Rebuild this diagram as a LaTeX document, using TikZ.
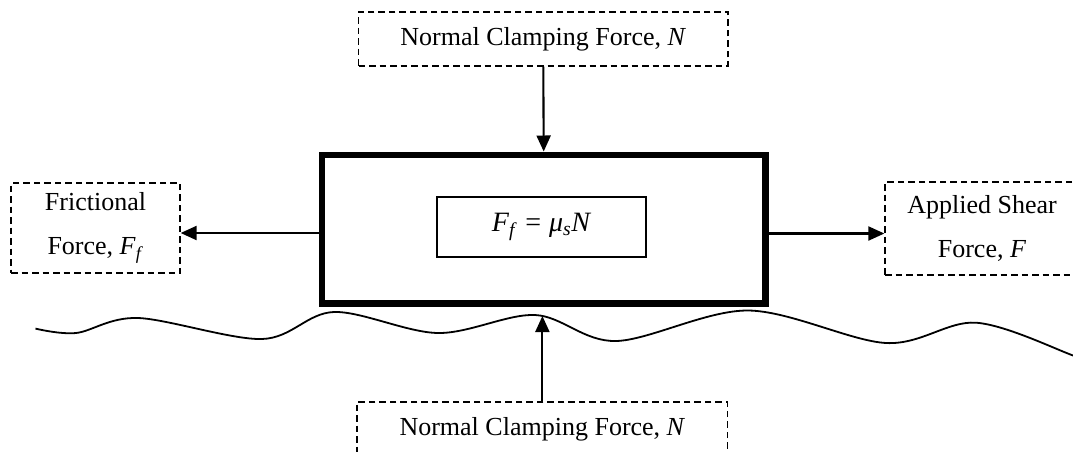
\documentclass[tikz,border=0pt]{standalone}
\usepackage{fontspec}
\setmainfont{Liberation Serif}
\usetikzlibrary{arrows.meta,positioning}
\newcommand{\eqnsize}{\fontsize{28}{32}\selectfont}

\begin{document}
\begin{tikzpicture}[x=1pt,y=-1pt,font=\fontsize{26}{44}\selectfont,
 forcebox/.style={draw,dash pattern=on 6.5pt off 4pt,line width=1.3pt,align=center,inner sep=0pt},
 force/.style={line width=2.1pt,-{Triangle[length=16pt,width=14pt]}}]
 \clip(0,0)rectangle(1073,451);
 \node[draw,line width=6.5pt,minimum width=443.5pt,minimum height=148.5pt](block)at(543.7,229){};
 \node[draw,line width=1.6pt,minimum width=209pt,minimum height=60pt,inner sep=0pt,font=\eqnsize](law)at(541.5,227)
  {\textit{F}\textsubscript{\textit{f}}\hspace{8pt}=\hspace{8pt}\textit{μ}\textsubscript{\textit{s}}\textit{N}};
 \node[forcebox,minimum width=369.4pt,minimum height=54pt](ntop)at(543.3,39){Normal Clamping Force, \textit{N}};
 \node[forcebox,minimum width=370.7pt,minimum height=54pt](nbot)at(542.4,429){Normal Clamping Force, \textit{N}};
 \node[forcebox,minimum width=169pt,minimum height=90pt](fric)at(95.5,228){Frictional\\Force, \textit{F}\textsubscript{\textit{f}}};
 \node[forcebox,minimum width=194pt,minimum height=93pt](shear)at(982,228.5){Applied Shear\\Force, \textit{F}};
 \coordinate(contact)at(542.4,316);
 \draw[line width=1.8pt]plot[smooth,tension=.55]coordinates{(35.5,328.6)(76,333)(138,318)(262,339)(334,312)(438,333)(535,315)(616,341)(748,310.5)(886,343)(976,322.7)(1073,355.5)(1090,364)};
 \draw[force](ntop.south)--(block.north);
 \draw[force]([yshift=-4pt]block.west)--([yshift=-5pt]fric.east);
 \draw[force]([yshift=-4.5pt]block.east)--([yshift=-5pt]shear.west);
 \draw[force](nbot.north)--(contact);
\end{tikzpicture}
\end{document}
